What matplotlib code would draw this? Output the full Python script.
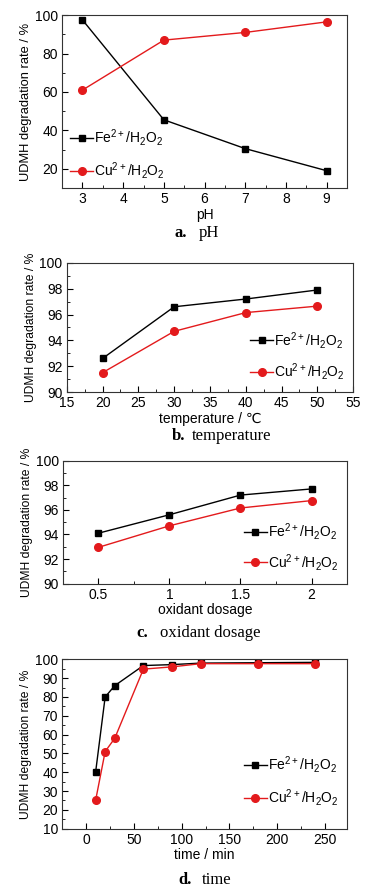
import matplotlib.pyplot as plt
from matplotlib.ticker import MultipleLocator, FuncFormatter

# data
ph = [3, 5, 7, 9]
ph_fe = [97.5, 45.5, 30.5, 19.0]
ph_cu = [61.0, 87.0, 91.0, 96.5]

temp = [20, 30, 40, 50]
temp_fe = [92.6, 96.6, 97.2, 97.9]
temp_cu = [91.5, 94.7, 96.15, 96.65]

dosage = [0.5, 1.0, 1.5, 2.0]
dosage_fe = [94.1, 95.6, 97.2, 97.7]
dosage_cu = [92.95, 94.7, 96.15, 96.75]

time_min = [10, 20, 30, 60, 90, 120, 180, 240]
time_fe = [40.0, 80.0, 86.0, 96.7, 97.2, 98.0, 98.2, 98.4]
time_cu = [25.0, 51.0, 58.0, 94.8, 96.0, 97.7, 97.7, 97.7]

fe_label = r'Fe$^{2+}$/H$_2$O$_2$'
cu_label = r'Cu$^{2+}$/H$_2$O$_2$'
red = '#e31a1c'

plt.rcParams['font.family'] = ['Liberation Sans', 'DejaVu Sans']
plt.rcParams['mathtext.fontset'] = 'custom'
plt.rcParams['mathtext.rm'] = 'Liberation Sans'
plt.rcParams['font.size'] = 10

fig = plt.figure(figsize=(3.86, 8.91), dpi=100)

panels = [
    # left, bottom, width, height
    dict(rect=[0.161, 0.789, 0.738, 0.194], x=ph, fe=ph_fe, cu=ph_cu,
         xlim=(2.5, 9.5), ylim=(10, 100), xmaj=1, xmin=0.5, ymaj=20, ymin=10,
         xlabel='pH', ysize=9.3, loc='lower left', anchor=(0.0, -0.01), spacing=0.9),
    dict(rect=[0.173, 0.560, 0.742, 0.145], x=temp, fe=temp_fe, cu=temp_cu,
         xlim=(15, 55), ylim=(90, 100), xmaj=5, xmin=2.5, ymaj=2, ymin=1,
         xlabel='temperature / ℃', ysize=8.7, loc='center right', anchor=(1.0, 0.28), spacing=0.75),
    dict(rect=[0.163, 0.345, 0.736, 0.138], x=dosage, fe=dosage_fe, cu=dosage_cu,
         xlim=(0.25, 2.25), ylim=(90, 100), xmaj=0.5, xmin=0.25, ymaj=2, ymin=1,
         xlabel='oxidant dosage', ysize=8.7, loc='center right', anchor=(1.0, 0.3), spacing=0.7),
    dict(rect=[0.161, 0.070, 0.738, 0.190], x=time_min, fe=time_fe, cu=time_cu,
         xlim=(-25, 273), ylim=(10, 100), xmaj=50, xmin=25, ymaj=10, ymin=5,
         xlabel='time / min', ysize=8.7, loc='center right', anchor=(1.0, 0.28), spacing=0.9),
]

for p in panels:
    ax = fig.add_axes(p['rect'])
    ax.plot(p['x'], p['fe'], color='black', marker='s', markersize=5, linewidth=1, label=fe_label)
    ax.plot(p['x'], p['cu'], color=red, marker='o', markersize=5.5, linewidth=1, label=cu_label)
    ax.set_xlim(*p['xlim'])
    ax.set_ylim(*p['ylim'])
    ax.xaxis.set_major_locator(MultipleLocator(p['xmaj']))
    ax.xaxis.set_minor_locator(MultipleLocator(p['xmin']))
    ax.xaxis.set_major_formatter(FuncFormatter(lambda v, pos: '{:g}'.format(v)))
    ax.yaxis.set_major_locator(MultipleLocator(p['ymaj']))
    ax.yaxis.set_minor_locator(MultipleLocator(p['ymin']))
    ax.tick_params(which='both', direction='in', top=False, right=False)
    ax.tick_params(which='major', length=4, labelsize=10, pad=3)
    ax.tick_params(which='minor', length=2)
    for s in ax.spines.values():
        s.set_color('#333333')
    ax.set_xlabel(p['xlabel'], fontsize=10, labelpad=1)
    ax.set_ylabel('UDMH degradation rate / %', fontsize=p['ysize'], labelpad=2)
    ax.legend(loc=p['loc'], bbox_to_anchor=p['anchor'], frameon=False, fontsize=10,
              handlelength=1.6, handletextpad=0.1, labelspacing=p['spacing'], borderaxespad=0.2)

# captions under each panel
captions = [
    (187, 199, 233, 'a.', 'pH'),
    (185, 192, 436, 'b.', 'temperature'),
    (148, 160, 633, 'c.', 'oxidant dosage'),
    (192, 202, 880, 'd.', 'time'),
]
W, H = 386.0, 891.0
for xb, xt, y, tag, txt in captions:
    fig.text(xb / W, 1 - y / H, tag, ha='right', va='center', family='Liberation Serif',
             fontweight='bold', fontsize=12)
    fig.text(xt / W, 1 - y / H, txt, ha='left', va='center', family='Liberation Serif',
             fontsize=12)

fig.savefig('out.png', dpi=100)
